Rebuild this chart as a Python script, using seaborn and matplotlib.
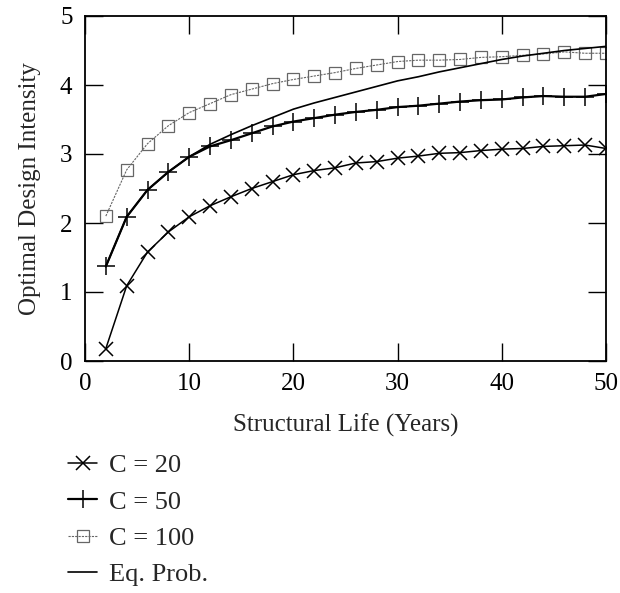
import matplotlib
matplotlib.use("Agg")
import matplotlib.pyplot as plt
import seaborn as sns
import pandas as pd

years = [2, 4, 6, 8, 10, 12, 14, 16, 18, 20, 22, 24, 26, 28, 30, 32, 34, 36, 38, 40, 42, 44, 46, 48, 50]
c20 = [0.18, 1.09, 1.58, 1.87, 2.09, 2.25, 2.38, 2.50, 2.60, 2.70, 2.76, 2.80, 2.87, 2.89, 2.94,
       2.97, 3.01, 3.02, 3.05, 3.07, 3.08, 3.11, 3.12, 3.13, 3.08]
c50 = [1.37, 2.09, 2.48, 2.74, 2.96, 3.11, 3.20, 3.30, 3.40, 3.47, 3.52, 3.57, 3.61, 3.64, 3.68,
       3.70, 3.73, 3.76, 3.78, 3.79, 3.82, 3.84, 3.83, 3.83, 3.87]
c100 = [2.10, 2.77, 3.15, 3.41, 3.60, 3.73, 3.86, 3.94, 4.02, 4.08, 4.13, 4.18, 4.24, 4.29, 4.34,
        4.36, 4.36, 4.37, 4.40, 4.41, 4.43, 4.45, 4.48, 4.46, 4.46]
eqprob = [1.37, 2.09, 2.48, 2.74, 2.96, 3.14, 3.28, 3.41, 3.53, 3.65, 3.74, 3.82, 3.90, 3.98, 4.06,
          4.12, 4.19, 4.25, 4.31, 4.37, 4.42, 4.46, 4.50, 4.53, 4.56]
labels = ["C = 20", "C = 50", "C = 100", "Eq. Prob."]

sns.set_style("ticks")
plt.rcParams["font.family"] = ["Liberation Serif", "DejaVu Serif"]

fig = plt.figure(figsize=(6.2, 5.93), dpi=100)
ax = fig.add_axes([85/620, 1-361/593, (606-85)/620, (361-16)/593])

series = [c20, c50, c100, eqprob]
styles = [
    dict(color="black", lw=1.1, marker="x", markersize=10, markeredgewidth=1.1,
         markeredgecolor="black"),
    dict(color="black", lw=1.6, marker="+", markersize=13, markeredgewidth=1.1,
         markeredgecolor="black"),
    dict(color="#666666", lw=0.8, ls=(0, (2, 1)), marker="s", markersize=8,
         markerfacecolor="none", markeredgecolor="#666666", markeredgewidth=0.9),
    dict(color="black", lw=1.2),
]
for vals, lab, st in zip(series, labels, styles):
    df = pd.DataFrame({"x": years, "y": vals})
    sns.lineplot(data=df, x="x", y="y", ax=ax, label=lab, **st)

ax.set_xlim(0, 50)
ax.set_ylim(0, 5)
ax.set_xticks([0, 10, 20, 30, 40, 50])
ax.set_yticks([0, 1, 2, 3, 4, 5])
ax.tick_params(direction="in", length=13, width=1.0, top=True, right=True,
               labelsize=18, pad=9, colors="black")
for s in ax.spines.values():
    s.set_linewidth(1.3)
    s.set_color("black")
ax.set_xlabel("Structural Life (Years)", fontsize=18, labelpad=13)
ax.set_ylabel("Optimal Design Intensity", fontsize=18, labelpad=14)

h, l = ax.get_legend_handles_labels()
ax.get_legend().remove()
fig.legend(h, l, loc="upper left", bbox_to_anchor=(68/620, 1-454/593), frameon=False,
           fontsize=19, handlelength=1.1, handletextpad=0.45, labelspacing=0.48,
           borderpad=0, borderaxespad=0)

fig.savefig("out.png", dpi=100)
